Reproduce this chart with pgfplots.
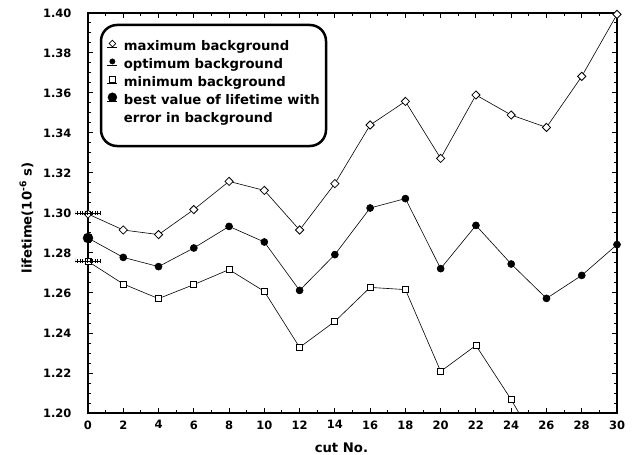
\documentclass[border=0pt]{standalone}
\usepackage{pgfplots}
\pgfplotsset{compat=1.18}
\usepackage{fontspec}
\setmainfont{DejaVu Sans}

\begin{document}
\begin{tikzpicture}
\begin{axis}[
    scale only axis,
    width=529bp, height=400bp,
    xmin=0, xmax=30,
    ymin=1.20, ymax=1.40,
    clip=false,
    xtick={0,2,4,6,8,10,12,14,16,18,20,22,24,26,28,30},
    ytick={1.20,1.22,1.24,1.26,1.28,1.30,1.32,1.34,1.36,1.38,1.40},
    minor x tick num=1,
    minor y tick num=3,
    tick align=inside,
    major tick length=5bp,
    minor tick length=3bp,
    axis line style={line width=1.5bp},
    every tick/.style={black, line width=1bp},
    /pgf/number format/assume math mode=true,
    yticklabel={\pgfmathprintnumber[fixed,fixed zerofill,precision=2]{\tick}},
    ticklabel style={font=\bfseries\fontsize{11.5bp}{13bp}\selectfont},
    y tick label style={xshift=-13bp},
    x tick label style={yshift=-4bp},
    xlabel={cut No.},
    ylabel={lifetime(10\textsuperscript{-6} s)},
    label style={font=\bfseries\fontsize{13.2bp}{15bp}\selectfont},
    xlabel style={at={(axis description cs:0.479,0)}, anchor=base, yshift=-39bp},
    ylabel style={at={(axis description cs:-0.1068,0.4875)}, anchor=base},
    legend style={draw=none, fill=none, inner sep=0pt,
        at={(axis description cs:0.0359,0.9365)}, anchor=north west,
        font=\bfseries\fontsize{13.2bp}{17.9bp}\selectfont,
        nodes={inner sep=0pt, text height=12.3bp, text depth=5.6bp},
        column sep=6.3bp},
    legend cell align=left,
    legend image code/.code={
        \path (-5bp,0bp) -- (5bp,0bp);
        \draw[#1] plot coordinates {(0bp,4bp)};
    },
]

% maximum background
\addplot[black, line width=0.6bp, mark=square*, mark size=2.9bp,
    mark options={rotate=45, fill=white, line width=0.8bp}, forget plot]
coordinates {
(0,1.2995) (2,1.2915) (4,1.2892) (6,1.3017) (8,1.3158) (10,1.3113)
(12,1.2915) (14,1.3147) (16,1.3440) (18,1.3558) (20,1.3273) (22,1.3590)
(24,1.3490) (26,1.3428) (28,1.3683) (30,1.3993)
};

% optimum background
\addplot[black, line width=0.6bp, mark=*, mark size=3.5bp,
    mark options={fill=black}, forget plot]
coordinates {
(0,1.2875) (2,1.2778) (4,1.2732) (6,1.2825) (8,1.2933) (10,1.2855)
(12,1.2613) (14,1.2792) (16,1.3025) (18,1.3072) (20,1.2722) (22,1.2938)
(24,1.2745) (26,1.2573) (28,1.2688) (30,1.2842)
};

% minimum background (line leaves the frame after cut 24)
\addplot[black, line width=0.6bp, mark=square*, mark size=3bp,
    mark options={fill=white, line width=0.8bp}, forget plot]
coordinates {
(0,1.2758) (2,1.2645) (4,1.2572) (6,1.2642) (8,1.2717) (10,1.2608)
(12,1.2328) (14,1.2458) (16,1.2628) (18,1.2617) (20,1.2208) (22,1.2338)
(24,1.2067)
};
\addplot[black, line width=0.6bp, no marks, forget plot]
coordinates {(24,1.2067) (24.44,1.2000)};

% best value with error in background
\addplot[black, line width=2bp, no marks, forget plot]
coordinates {(0,1.2760) (0,1.3000)};
\addplot[black, only marks, mark=-, mark size=12.5bp, forget plot,
    mark options={line width=0.9bp}]
coordinates {(0,1.3000) (0,1.2760)};
\addplot[black, only marks, mark=-, mark size=12.5bp, forget plot,
    mark options={line width=3.2bp, dash pattern=on 0.9bp off 1.6bp}]
coordinates {(0,1.3000) (0,1.2760)};
\addplot[black, only marks, mark=*, mark size=5bp, forget plot]
coordinates {(0,1.2875)};

\draw[line width=2.5bp, rounded corners=16bp]
    (axis description cs:0.0246,0.6675) rectangle (axis description cs:0.4499,0.97);

\addlegendimage{only marks, mark=square*, mark size=2.35bp,
    mark options={rotate=45, fill=white, line width=0.7bp}}
\addlegendentry{maximum background}
\addlegendimage{only marks, mark=*, mark size=2.7bp, mark options={fill=black}}
\addlegendentry{optimum background}
\addlegendimage{only marks, mark=square*, mark size=3bp,
    mark options={fill=white, line width=0.7bp}}
\addlegendentry{minimum background}
\addlegendimage{only marks, mark=*, mark size=4.5bp, mark options={fill=black}}
\addlegendentry{\vtop{\hbox{best value of lifetime with}\hbox{error in background}}}

\end{axis}
\pgfresetboundingbox
\path (-88bp,-42bp) rectangle (544bp,413bp);
\end{tikzpicture}
\end{document}
